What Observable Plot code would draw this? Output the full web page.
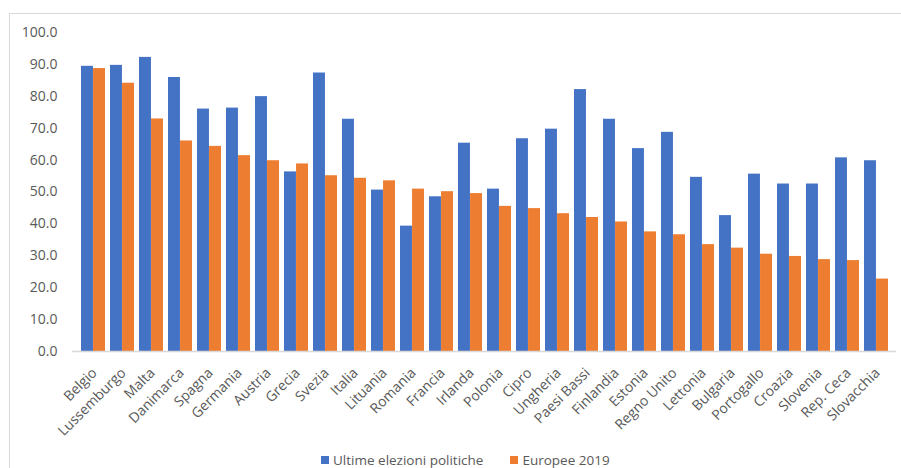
<!DOCTYPE html>
<html><head><meta charset="utf-8">
<script src="https://cdn.jsdelivr.net/npm/d3@7"></script>
<script src="https://cdn.jsdelivr.net/npm/@observablehq/plot@0.6"></script>
<style>
body{margin:0;background:#fff;font-family:"Open Sans",sans-serif;overflow:hidden}
#frame{position:absolute;left:9px;top:13px;width:1000px;height:1000px;border:1px solid #d9d9d9;box-sizing:border-box}
#chart{position:absolute;left:0;top:0}
#legend{position:absolute;top:452px;left:321px;display:flex;align-items:center;font-size:13.5px;line-height:16px;color:#595959;white-space:nowrap}
#legend .sw{display:inline-block;width:8px;height:8px;margin-right:4px}
#legend .item{display:flex;align-items:center;margin-right:27px}
</style></head>
<body>
<div id="frame"></div>
<div id="chart"></div>
<div id="legend"></div>
<script>
const countries = ["Belgio","Lussemburgo","Malta","Danimarca","Spagna","Germania","Austria","Grecia","Svezia","Italia","Lituania","Romania","Francia","Irlanda","Polonia","Cipro","Ungheria","Paesi Bassi","Finlandia","Estonia","Regno Unito","Lettonia","Bulgaria","Portogallo","Croazia","Slovenia","Rep. Ceca","Slovacchia"];
const ultimeElezioni = [89.4,89.7,92.2,85.9,76.0,76.3,79.9,56.3,87.3,72.8,50.6,39.3,48.5,65.3,50.9,66.7,69.7,82.1,72.8,63.6,68.7,54.6,42.6,55.6,52.5,52.5,60.7,59.8];
const europee2019 = [88.7,84.1,72.9,66.0,64.3,61.4,59.8,58.8,55.1,54.3,53.5,50.9,50.1,49.5,45.5,44.8,43.2,42.0,40.6,37.5,36.6,33.5,32.4,30.5,29.8,28.8,28.5,22.7];
const series = ["Ultime elezioni politiche","Europee 2019"];
const colors = ["#4472C4","#ED7D31"];
const yTicks = [0,10,20,30,40,50,60,70,80,90,100];

const rowsA = countries.map((c,i)=>({country:c, serie:series[0], value:ultimeElezioni[i]}));
const rowsB = countries.map((c,i)=>({country:c, serie:series[1], value:europee2019[i]}));

const chart = Plot.plot({
  width: 901, height: 445,
  marginLeft: 72, marginRight: 5, marginTop: 32, marginBottom: 94,
  style: {fontFamily: "Open Sans", fontSize: "14px", color: "#595959", background: "transparent", overflow: "visible"},
  x: {domain: countries, paddingInner: 0.18, paddingOuter: 0.09, label: null},
  y: {domain: [0,100], label: null},
  color: {domain: series, range: colors},
  marks: [
    Plot.barY(rowsA, {x: "country", y: "value", fill: "serie", insetRight: 12.05}),
    Plot.barY(rowsB, {x: "country", y: "value", fill: "serie", insetLeft: 12.05}),
    Plot.ruleY([0], {stroke: "#d9d9d9", strokeWidth: 1.3}),
    Plot.axisX({tickRotate: -45, tickSize: 0, tickPadding: 19, fontSize: 14, dx: 1, label: null}),
    Plot.axisY({ticks: yTicks, tickFormat: d => d.toFixed(1), tickSize: 0, tickPadding: 15, fontSize: 14, label: null})
  ]
});
document.getElementById("chart").appendChild(chart);

const lg = document.getElementById("legend");
series.forEach((s,i)=>{
  const it = document.createElement("span"); it.className="item";
  const sw = document.createElement("span"); sw.className="sw"; sw.style.background = colors[i];
  it.appendChild(sw); it.appendChild(document.createTextNode(s)); lg.appendChild(it);
});
</script>
</body></html>
